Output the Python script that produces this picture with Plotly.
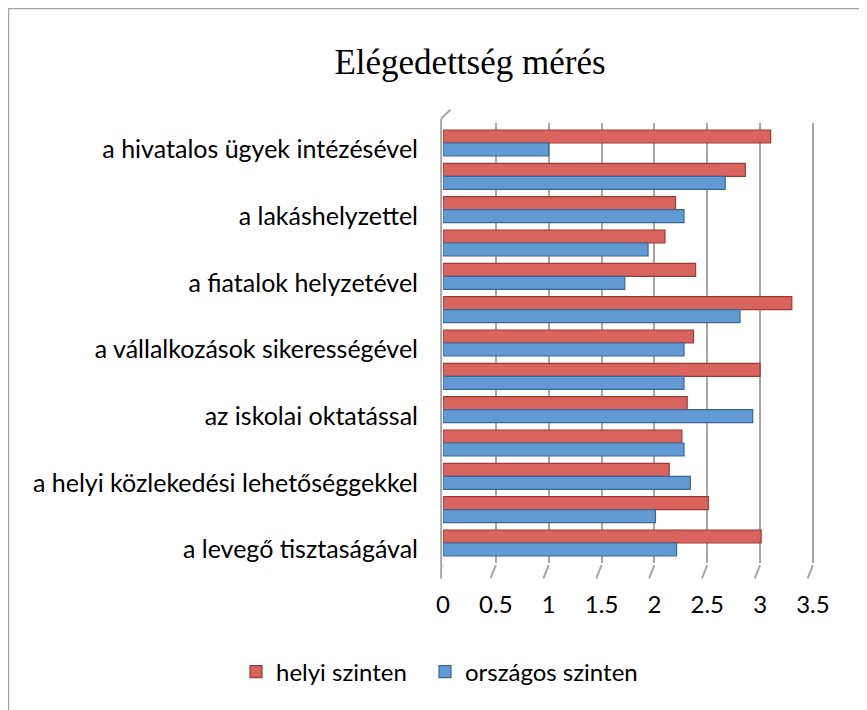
import plotly.graph_objects as go

# Categories listed top to bottom (every other category label is not shown in the reference)
categories = [
    "a hivatalos ügyek intézésével", "",
    "a lakáshelyzettel", "",
    "a fiatalok helyzetével", "",
    "a vállalkozások sikerességével", "",
    "az iskolai oktatással", "",
    "a helyi közlekedési lehetőséggekkel", "",
    "a levegő tisztaságával",
]
helyi = [3.10, 2.86, 2.20, 2.10, 2.39, 3.30, 2.37, 3.00, 2.31, 2.26, 2.14, 2.51, 3.01]
orszagos = [1.00, 2.67, 2.28, 1.94, 1.72, 2.81, 2.28, 2.28, 2.93, 2.28, 2.34, 2.01, 2.21]
x_ticks = [0, 0.5, 1, 1.5, 2, 2.5, 3, 3.5]

pos = list(range(len(categories)))
label_pos = [p + 0.2 for p, c in zip(pos, categories) if c]
label_txt = [c for c in categories if c]

W, H = 867, 710
L, R, T, B = 435, 61, 115, 155
pw, ph = W - L - R, H - T - B

fig = go.Figure()
fig.add_trace(go.Bar(
    y=pos, x=helyi, orientation="h", name="helyi szinten", legend="legend",
    marker=dict(color="#d9645d", line=dict(color="#9c3a36", width=1.2)),
))
fig.add_trace(go.Bar(
    y=pos, x=orszagos, orientation="h", name="országos szinten", legend="legend2",
    marker=dict(color="#629ad4", line=dict(color="#3b6795", width=1.2)),
))

shapes = []
for v in x_ticks:
    shapes.append(dict(type="line", xref="x", yref="paper",
                       x0=v, x1=v - 0.05, y0=-0.005, y1=-0.035,
                       line=dict(color="#a6a6a6", width=2)))
shapes.append(dict(type="line", xref="paper", yref="paper",
                   x0=-0.005, x1=-0.005, y0=-0.035, y1=1.01,
                   line=dict(color="#a6a6a6", width=2)))
shapes.append(dict(type="line", xref="paper", yref="paper",
                   x0=-0.005, x1=0.02, y0=1.01, y1=1.03,
                   line=dict(color="#a6a6a6", width=2)))
# outer chart frame (left and top edges visible)
fx0 = (0.2 - L) / pw
fx1 = (W + 20 - L) / pw
fy1 = (H - B - 0.2) / ph
fy0 = (H - B - (H + 20)) / ph
shapes.append(dict(type="rect", xref="paper", yref="paper",
                   x0=fx0, x1=fx1, y0=fy0, y1=fy1,
                   line=dict(color="#a0a0a0", width=2)))

font_s = "Lato, Open Sans, sans-serif"
leg_common = dict(orientation="h", xref="paper", yref="paper",
                  y=(H - B - 664) / ph, xanchor="left", yanchor="middle",
                  itemwidth=30, bgcolor="rgba(0,0,0,0)",
                  font=dict(family=font_s, size=24, color="#000000"))
fig.update_layout(
    width=W, height=H,
    margin=dict(l=L, r=R, t=T, b=B, autoexpand=False),
    paper_bgcolor="white", plot_bgcolor="white",
    barmode="group", bargap=0.22, bargroupgap=0.0,
    title=dict(text="Elégedettség mérés", xref="container", yref="container",
               x=462 / W, y=1 - 54 / H, xanchor="center", yanchor="middle",
               font=dict(family="Liberation Serif, DejaVu Serif, serif", size=35, color="#000000")),
    xaxis=dict(range=[0, 3.51], tickvals=x_ticks, ticktext=[str(v) for v in x_ticks],
               showgrid=True, gridcolor="#a6a6a6", gridwidth=2, zeroline=False,
               showline=False, ticks="", ticklabelstandoff=25,
               tickfont=dict(family=font_s, size=24, color="#000000")),
    yaxis=dict(range=[12.6, -0.6], tickvals=label_pos, ticktext=label_txt,
               showgrid=False, zeroline=False, showline=False, ticks="",
               ticklabelstandoff=24,
               tickfont=dict(family=font_s, size=25, color="#000000")),
    legend=dict(x=(228 - L) / pw, **leg_common),
    legend2=dict(x=(417 - L) / pw, **leg_common),
    shapes=shapes,
    showlegend=True,
)

fig.write_html("out.html")
